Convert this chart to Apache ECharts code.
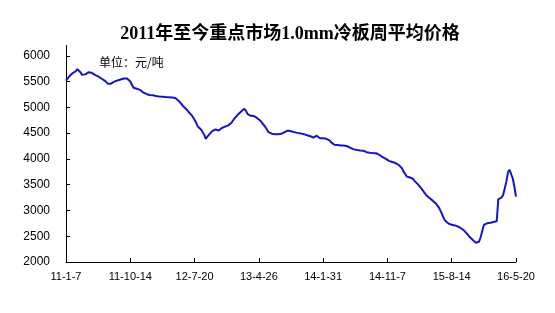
<!DOCTYPE html>
<html>
<head>
<meta charset="utf-8">
<script src="https://cdn.jsdelivr.net/npm/echarts@6/dist/echarts.min.js"></script>
<style>html,body{margin:0;padding:0;background:#fff}#c{width:555px;height:313px}</style>
</head>
<body>
<div id="c"></div>
<script>
// Weekly categories: 2011-01-07 .. 2016-05-20 (281 weeks)
var startDate = Date.UTC(2011, 0, 7);
var weekCount = 281;
var categories = [];
for (var k = 0; k < weekCount; k++) {
  var d = new Date(startDate + k * 7 * 86400000);
  categories.push(String(d.getUTCFullYear()).slice(2) + '-' + (d.getUTCMonth() + 1) + '-' + d.getUTCDate());
}
var tickLabels = ['11-1-7','11-10-14','12-7-20','13-4-26','14-1-31','14-11-7','15-8-14','16-5-20'];
var yTicks = [2000, 2500, 3000, 3500, 4000, 4500, 5000, 5500, 6000];

var prices = [
  5520,5560,5600,5630,5660,5680,5700,5740,5730,5680,5630,
  5630,5640,5660,5680,5680,5670,5650,5630,5610,5600,
  5590,5560,5540,5520,5490,5460,5450,5460,5480,5500,
  5515,5520,5530,5540,5550,5560,5562,5560,5540,5500,
  5470,5380,5360,5360,5350,5340,5320,5290,5270,5260,
  5250,5240,5240,5235,5230,5220,5215,5210,5210,5205,
  5200,5200,5200,5198,5195,5190,5185,5180,5170,5130,
  5100,5060,5020,4985,4960,4920,4890,4855,4820,4758,
  4700,4630,4600,4570,4560,4470,4390,4430,4470,4499,
  4540,4577,4570,4560,4550,4570,4600,4616,4625,4640,
  4650,4660,4700,4750,4790,4820,4860,4890,4919,4940,
  4971,4930,4870,4835,4835,4835,4830,4810,4790,4770,
  4740,4700,4660,4620,4570,4520,4500,4490,4480,4480,
  4480,4480,4482,4486,4500,4520,4540,4550,4545,4535,
  4525,4520,4511,4505,4500,4495,4486,4480,4470,4460,
  4447,4440,4420,4414,4440,4450,4420,4402,4400,4400,
  4395,4390,4389,4360,4320,4290,4275,4272,4270,4265,
  4262,4260,4260,4259,4245,4230,4215,4200,4185,4175,
  4172,4168,4165,4162,4160,4145,4130,4125,4120,4115,
  4112,4111,4110,4095,4080,4060,4033,4015,4000,3985,
  3961,3950,3940,3936,3920,3900,3885,3870,3820,3754,
  3710,3657,3645,3640,3637,3610,3570,3540,3505,3470,
  3431,3390,3345,3301,3270,3245,3218,3195,3170,3140,
  3100,3060,3023,2930,2849,2800,2763,2745,2730,2722,
  2719,2710,2700,2685,2674,2650,2625,2600,2569,2530,
  2490,2460,2430,2400,2375,2378,2394,2480,2600,2719,
  2740,2751,2755,2760,2768,2775,2783,2790,3220,3185,
  3250,3300,3334,3559,3740,3790,3760,3620,3460,3268
];

var chart = echarts.init(document.getElementById('c'), null, {renderer: 'canvas'});
chart.setOption({
  backgroundColor: '#fff',
  animation: false,
  title: {
    text: '2011年至今重点市场1.0mm冷板周平均价格',
    left: 285, top: 20, textAlign: 'center',
    textStyle: {fontFamily: 'Liberation Serif, Noto Sans CJK SC', fontSize: 18, fontWeight: 'bold', color: '#000'}
  },
  graphic: [{
    type: 'text', left: 99, top: 56,
    style: {text: '单位：元/吨', fontFamily: 'Noto Sans CJK SC', fontSize: 12, fill: '#000'}
  }],
  grid: {left: 66, right: 39, top: 45.5, bottom: 51},
  xAxis: {
    type: 'category',
    data: categories,
    boundaryGap: false,
    axisLine: {lineStyle: {color: '#000', width: 1}},
    axisTick: {inside: true, interval: 39, length: 4, lineStyle: {color: '#000'}},
    axisLabel: {
      interval: 39, margin: 9, color: '#000', fontSize: 11, fontFamily: 'Liberation Sans',
      formatter: function (v) { return tickLabels.indexOf(v) >= 0 ? v : ''; }
    },
    splitLine: {show: false}
  },
  yAxis: {
    type: 'value',
    min: 2000, max: 6200, interval: 500,
    axisLine: {show: true, lineStyle: {color: '#000', width: 1}},
    axisTick: {show: true, inside: true, length: 4, lineStyle: {color: '#000'}},
    axisLabel: {
      margin: 16, color: '#000', fontSize: 12, fontFamily: 'Liberation Sans', showMaxLabel: false,
      formatter: function (v) { return yTicks.indexOf(v) >= 0 ? String(v) : ''; }
    },
    splitLine: {show: false}
  },
  series: [{
    type: 'line',
    data: prices,
    showSymbol: false,
    symbol: 'none',
    lineStyle: {color: '#1515c8', width: 2},
    smooth: false
  }]
});
</script>
</body>
</html>
